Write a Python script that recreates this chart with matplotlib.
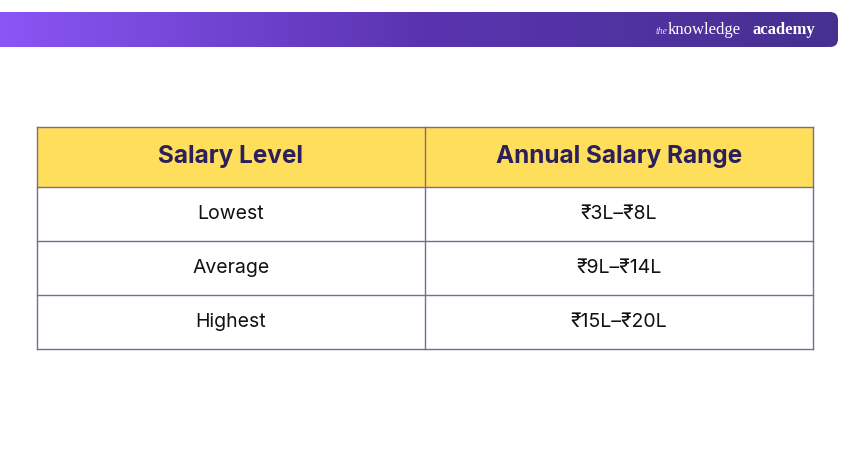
import matplotlib
matplotlib.use("Agg")
import matplotlib.pyplot as plt
import numpy as np
from matplotlib.patches import Rectangle, FancyBboxPatch
from matplotlib.colors import LinearSegmentedColormap

headers = ["Salary Level", "Annual Salary Range"]
levels = ["Lowest", "Average", "Highest"]
ranges = ["₹3L–₹8L", "₹9L–₹14L", "₹15L–₹20L"]

fam = ["Inter", "DejaVu Sans"]
fig = plt.figure(figsize=(8.5, 4.5), dpi=100)
ax = fig.add_axes([0, 0, 1, 1])
ax.set_xlim(0, 850); ax.set_ylim(450, 0); ax.axis("off")

grad = np.linspace(0, 1, 256)[None, :]
cm = LinearSegmentedColormap.from_list("g", ["#8a55f5", "#5a34b0", "#463090"])
im = ax.imshow(grad, cmap=cm, extent=[0, 838, 47, 12], aspect="auto", zorder=1)
clip = FancyBboxPatch((-20, 12), 858, 35, boxstyle="round,pad=0,rounding_size=8",
                      transform=ax.transData, facecolor="none", edgecolor="none")
ax.add_patch(clip); im.set_clip_path(clip)
ax.text(656, 31, "the", color="#e0d8f5", fontsize=7, style="italic", family="Liberation Serif", va="center", ha="left")
ax.text(668, 30, "knowledge", color="white", fontsize=12, family="Liberation Serif", va="center", ha="left")
ax.text(815, 30, "academy", color="white", fontsize=12, weight="bold", family="Liberation Serif", va="center", ha="right")

x0, xm, x1 = 37, 425, 813
ys = [127, 187, 241, 295, 349]
border = "#7d6a8c"
ax.add_patch(Rectangle((x0, ys[0]), x1 - x0, ys[1] - ys[0], facecolor="#ffde5c", edgecolor="none"))
for y in ys:
    ax.plot([x0, x1], [y, y], color=border, lw=1)
for x in (x0, xm, x1):
    ax.plot([x, x], [ys[0], ys[-1]], color=border, lw=1)

cx = [(x0 + xm) / 2, (xm + x1) / 2]
for i, h in enumerate(headers):
    ax.text(cx[i], (ys[0] + ys[1]) / 2, h, ha="center", va="center", fontsize=17.5,
            weight="bold", color="#2b1f5c", family=fam)
for r, (a, b) in enumerate(zip(levels, ranges)):
    yc = (ys[r + 1] + ys[r + 2]) / 2
    ax.text(cx[0], yc, a, ha="center", va="center", fontsize=14, color="#111111", family=fam)
    ax.text(cx[1], yc, b, ha="center", va="center", fontsize=14, color="#111111", family=fam)

fig.savefig("out.png", dpi=100)
